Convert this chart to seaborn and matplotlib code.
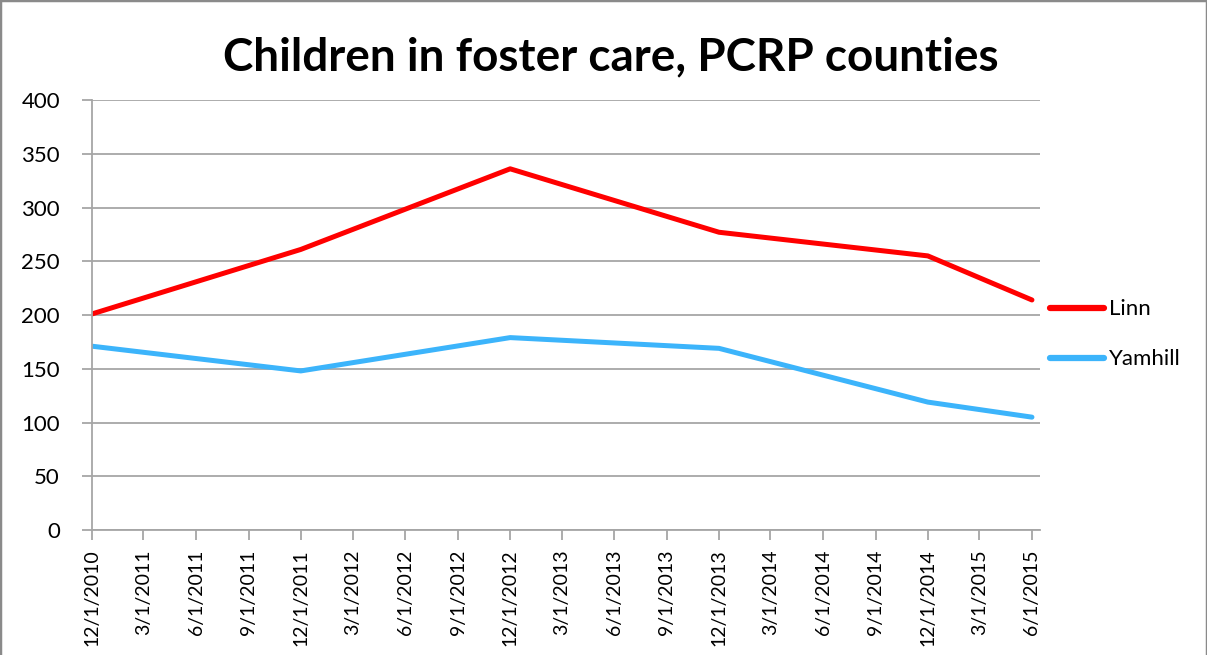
import matplotlib
matplotlib.use("Agg")
import matplotlib.pyplot as plt
import matplotlib.dates as mdates
from matplotlib.patches import Rectangle
import pandas as pd
import seaborn as sns

# Point-in-time counts of children in foster care
dates = ["2010-12-01", "2011-12-01", "2012-12-01", "2013-12-01", "2014-12-01", "2015-06-01"]
linn = [201, 261, 336, 277, 255, 214]
yamhill = [171, 148, 179, 169, 119, 105]
counties = ["Linn", "Yamhill"]
colors = ["#ff0000", "#3cb4fb"]
y_ticks = [0, 50, 100, 150, 200, 250, 300, 350, 400]
title = "Children in foster care, PCRP counties"

df = pd.DataFrame({
    "date": pd.to_datetime(dates * 2),
    "children": linn + yamhill,
    "county": [counties[0]] * len(linn) + [counties[1]] * len(yamhill),
})

sns.set_theme(style="white")
plt.rcParams["font.family"] = ["Lato", "DejaVu Sans"]
plt.rcParams["text.color"] = "#000000"

fig = plt.figure(figsize=(12.07, 6.55), dpi=100)
ax = fig.add_axes([0.0762, 0.1908, 0.7854, 0.6565])

sns.lineplot(data=df, x="date", y="children", hue="county",
             palette=dict(zip(counties, colors)), linewidth=3.6,
             ax=ax, legend=True)

grid_c = "#a6a6a6"
ax.set_ylim(0, 400)
ax.set_yticks(y_ticks)
ax.set_xlim(pd.Timestamp("2010-12-01"), pd.Timestamp("2015-06-15"))
ax.xaxis.set_major_locator(mdates.MonthLocator(bymonth=[3, 6, 9, 12]))
ax.xaxis.set_major_formatter(mdates.DateFormatter("%-m/%-d/%Y"))
ax.yaxis.grid(True, color=grid_c, linewidth=1.3)
ax.xaxis.grid(False)
for side in ["top", "right"]:
    ax.spines[side].set_visible(False)
for side in ["left", "bottom"]:
    ax.spines[side].set_color(grid_c)
    ax.spines[side].set_linewidth(1.3)
ax.tick_params(axis="both", which="major", length=7, width=1.3, color=grid_c,
               labelcolor="#000000", direction="out", bottom=True, left=True)
ax.tick_params(axis="y", pad=16, labelsize=16)
ax.tick_params(axis="x", pad=7, labelsize=14)
for lab in ax.get_xticklabels():
    lab.set_rotation(90)
ax.set_xlabel("")
ax.set_ylabel("")

leg = ax.legend(loc="center left", bbox_to_anchor=(0.99, 0.455), frameon=False,
                fontsize=16, handlelength=2.4, handletextpad=0.25, labelspacing=1.35)
for line in leg.get_lines():
    line.set_linewidth(4.5)

fig.suptitle(title, fontsize=33, fontweight="bold", color="#000000",
             x=0.506, y=0.945)

fig.patches.append(Rectangle((0, -0.05), 1, 1.05, transform=fig.transFigure,
                             fill=False, edgecolor="#8a8a8a", linewidth=2.5))

fig.savefig("out.png", dpi=100, facecolor="white")
